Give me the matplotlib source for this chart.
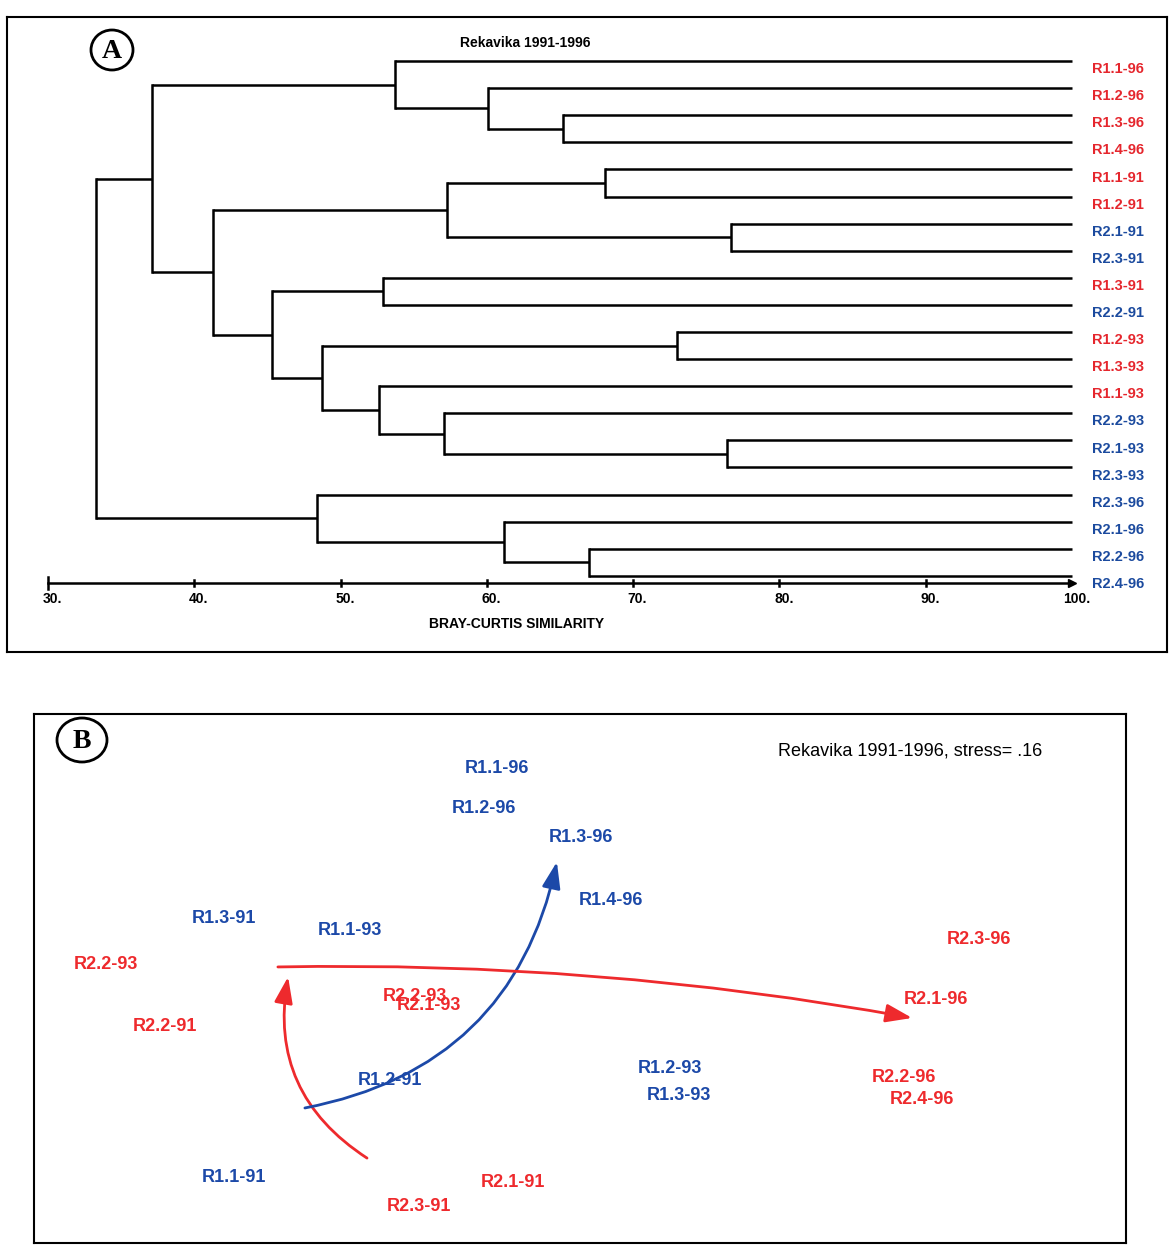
import numpy as np
import matplotlib
matplotlib.use("Agg")
import matplotlib.pyplot as plt
from matplotlib.patches import Ellipse, FancyArrowPatch

plt.rcParams['font.family'] = ['Liberation Sans', 'DejaVu Sans']

# ---- panel A: dendrogram data ----
leaves = ["R1.1-96", "R1.2-96", "R1.3-96", "R1.4-96", "R1.1-91", "R1.2-91",
          "R2.1-91", "R2.3-91", "R1.3-91", "R2.2-91", "R1.2-93", "R1.3-93",
          "R1.1-93", "R2.2-93", "R2.1-93", "R2.3-93", "R2.3-96", "R2.1-96",
          "R2.2-96", "R2.4-96"]
leaf_group = ["r", "r", "r", "r", "r", "r", "b", "b", "r", "b",
              "r", "r", "r", "b", "b", "b", "b", "b", "b", "b"]
# merges: (child a, child b, similarity); new node ids start at 20
merges = [(2, 3, 65.2), (1, 20, 60.1), (0, 21, 53.7), (4, 5, 68.1),
          (6, 7, 76.7), (23, 24, 57.3), (8, 9, 52.9), (10, 11, 73.0),
          (14, 15, 76.4), (13, 28, 57.1), (12, 29, 52.6), (27, 30, 48.7),
          (26, 31, 45.3), (25, 32, 41.3), (22, 33, 37.1), (18, 19, 67.0),
          (17, 35, 61.2), (16, 36, 48.4), (34, 37, 33.3)]
sim_ticks = [30, 40, 50, 60, 70, 80, 90, 100]

# ---- panel B: NMDS ordination data ----
nmds_labels = ["R1.1-96", "R1.2-96", "R1.3-96", "R1.4-96", "R1.3-91", "R1.1-93",
               "R2.2-93", "R2.3-96", "R2.2-93", "R2.1-93", "R2.2-91", "R2.1-96",
               "R1.2-91", "R1.2-93", "R1.3-93", "R2.2-96", "R2.4-96", "R1.1-91",
               "R2.1-91", "R2.3-91"]
nmds_x = [-0.277, -0.32, 0.003, 0.103, -1.187, -0.767, -1.58, 1.33, -0.55, -0.503,
          -1.383, 1.187, -0.633, 0.30, 0.33, 1.08, 1.14, -1.153, -0.223, -0.537]
nmds_y = [0.573, 0.437, 0.34, 0.133, 0.07, 0.03, -0.083, 0.0, -0.19, -0.217,
          -0.287, -0.20, -0.47, -0.427, -0.517, -0.457, -0.533, -0.793, -0.807, -0.887]
nmds_group = ["b", "b", "b", "b", "b", "b", "r", "r", "r", "r",
              "r", "r", "b", "b", "b", "r", "r", "b", "r", "r"]
# trajectories: (tail, head, curvature, colour)
trajectories = [((-0.71, -0.727), (-0.973, -0.123), -0.33, "r"),
                ((-0.917, -0.56), (-0.077, 0.26), 0.33, "b"),
                ((-1.007, -0.09), (1.107, -0.26), -0.05, "r")]

colA = {"r": "#e5262d", "b": "#1b4a9e"}
colB = {"r": "#ee2a2d", "b": "#1c49a8"}

W, H = 1169, 1252
fig = plt.figure(figsize=(W / 100, H / 100), dpi=100)


def rect(l, t, r, b):
    return [l / W, 1 - b / H, (r - l) / W, (b - t) / H]


# ---------------- panel A ----------------
axA = fig.add_axes(rect(7, 17, 1167, 652))
px_per = 1024 / 70
axA.set_xlim(30 - 41 / px_per, 30 + 1119 / px_per)
axA.set_ylim(591 / 27.1, -44 / 27.1)
axA.set_xticks([])
axA.set_yticks([])
for s in axA.spines.values():
    s.set_linewidth(1.5)

ypos = {i: float(i) for i in range(len(leaves))}
xpos = {i: 100.0 for i in range(len(leaves))}
parent = {}
for k, (a, b, h) in enumerate(merges):
    nid = len(leaves) + k
    ypos[nid] = (ypos[a] + ypos[b]) / 2
    xpos[nid] = h
    parent[a] = nid
    parent[b] = nid

lw = 1.8
for nid in xpos:
    if nid in parent:
        p = parent[nid]
        axA.plot([xpos[nid], xpos[p]], [ypos[nid], ypos[nid]], color="black",
                 lw=lw, solid_capstyle="butt")
for k, (a, b, h) in enumerate(merges):
    axA.plot([h, h], [ypos[a], ypos[b]], color="black", lw=lw,
             solid_capstyle="projecting")

for i, name in enumerate(leaves):
    axA.text(101.4, i + 0.3, name, color=colA[leaf_group[i]], fontsize=10.5,
             fontweight="bold", ha="left", va="center")

axis_y = (583 - 61) / 27.1
axA.plot([sim_ticks[0], sim_ticks[-1]], [axis_y, axis_y], color="black", lw=1.8)
for t in sim_ticks:
    d = 0.22 if t == sim_ticks[0] else 0.12
    if t != sim_ticks[-1]:
        axA.plot([t, t], [axis_y - d, axis_y + d], color="black", lw=1.8)
    axA.text(t + 0.3, axis_y + 0.6, f"{t}.", fontsize=10, fontweight="bold",
             ha="center", va="center")
axA.plot([sim_ticks[-1]], [axis_y], marker=">", color="black", ms=6)
axA.text(62.0, (624 - 61) / 27.1, "BRAY-CURTIS SIMILARITY", fontsize=10,
         fontweight="bold", ha="center", va="center")
axA.text(62.6, (43 - 61) / 27.1, "Rekavika 1991-1996", fontsize=10,
         fontweight="bold", ha="center", va="center")

# ---------------- panel B ----------------
axB = fig.add_axes(rect(34, 714, 1126, 1243))
axB.set_xlim(-1.82, 1.82)
axB.set_ylim(-1.01, 0.753)
axB.set_xticks([])
axB.set_yticks([])
for s in axB.spines.values():
    s.set_linewidth(1.5)

for lab, x, y, g in zip(nmds_labels, nmds_x, nmds_y, nmds_group):
    axB.text(x, y, lab, color=colB[g], fontsize=13, fontweight="bold",
             ha="center", va="center")

for tail, head, rad, g in trajectories:
    arr = FancyArrowPatch(tail, head, connectionstyle=f"arc3,rad={rad}",
                          arrowstyle="-|>,head_length=1.0,head_width=0.35",
                          mutation_scale=16, color=colB[g], lw=2,
                          shrinkA=0, shrinkB=0)
    axB.add_patch(arr)

axB.text(1.1, 0.63, "Rekavika 1991-1996, stress= .16", fontsize=13,
         ha="center", va="center")

# ---------------- circled panel letters ----------------
deco = fig.add_axes([0, 0, 1, 1])
deco.set_xlim(0, W)
deco.set_ylim(H, 0)
deco.axis("off")
deco.patch.set_alpha(0)
for cx, cy, w, h, letter in [(112, 50, 42, 40, "A"), (82, 740, 50, 44, "B")]:
    deco.add_patch(Ellipse((cx, cy), w, h, fill=False, lw=2, color="black"))
    deco.text(cx, cy + 1, letter, fontsize=20, fontweight="bold",
              family=["Liberation Serif", "DejaVu Serif"], ha="center", va="center")

fig.savefig("out.png", dpi=100)
